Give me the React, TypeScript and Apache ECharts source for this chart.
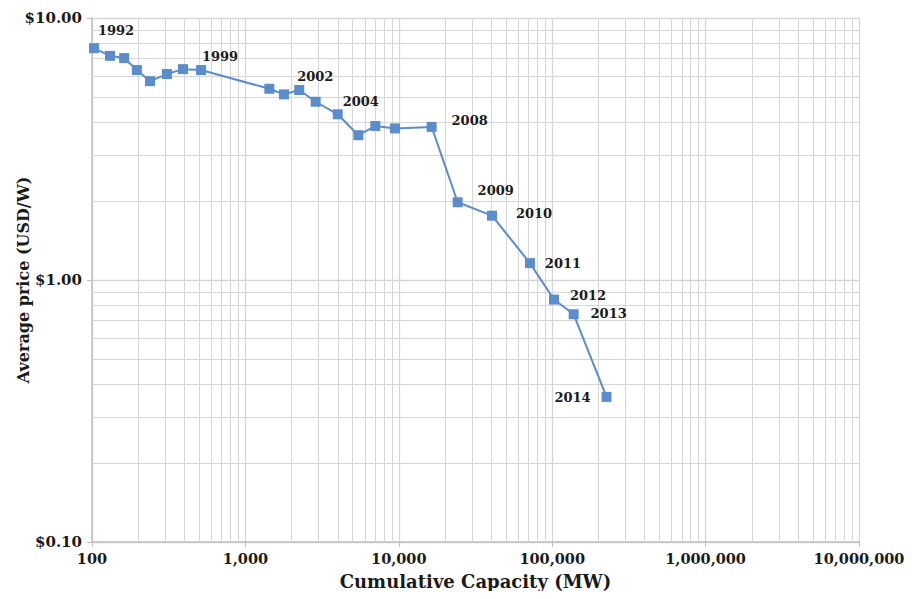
import React, { useEffect, useRef } from "react";
import * as echarts from "echarts";

const years = [
  "1992", "1993", "1994", "1995", "1996", "1997", "1998", "1999",
  "2000", "2001", "2002", "2003", "2004", "2005", "2006", "2007",
  "2008", "2009", "2010", "2011", "2012", "2013", "2014",
];
const capacityMW = [
  103, 131, 162, 196, 239, 308, 392, 514,
  1432, 1785, 2244, 2871, 3999, 5445, 7030, 9440,
  16370, 24200, 40500, 71600, 102700, 138000, 226000,
];
const priceUSD = [
  7.67, 7.17, 7.03, 6.33, 5.74, 6.11, 6.38, 6.33,
  5.37, 5.11, 5.31, 4.79, 4.29, 3.57, 3.87, 3.79,
  3.84, 1.98, 1.76, 1.16, 0.842, 0.74, 0.358,
];
const labelledYears = ["1992", "1999", "2002", "2004", "2008", "2009", "2010", "2011", "2012", "2013", "2014"];
const labelOffsets: Record<string, [number, number]> = {
  "1992": [22, -18],
  "1999": [19, -14],
  "2002": [16, -14],
  "2004": [23, -13],
  "2008": [38, -6],
  "2009": [38, -12],
  "2010": [42, -2],
  "2011": [33, 0],
  "2012": [34, -4],
  "2013": [35, -1],
  "2014": [-34, 1],
};
const xDecades = [100, 1000, 10000, 100000, 1000000];
const yDecades = [0.1, 1];
const minorSteps = [2, 3, 4, 5, 6, 7, 8, 9];

const FONT = "'DejaVu Serif', 'Liberation Serif', serif";
const TEXT = "#1a1a1a";
const GRID = "#d6d6d6";
const AXIS = "#bfbfbf";
const BLUE = "#5b8ccb";

export default function App() {
  const ref = useRef<HTMLDivElement>(null);
  useEffect(() => {
    if (!ref.current) return;
    const chart = echarts.init(ref.current, undefined, { renderer: "svg" });

    const minorX: any[] = [];
    xDecades.forEach((d) => minorSteps.forEach((m) => minorX.push({ xAxis: d * m })));
    const minorY: any[] = [];
    yDecades.forEach((d) => minorSteps.forEach((m) => minorY.push({ yAxis: +(d * m).toFixed(4) })));

    const data = years.map((yr, i) => {
      const item: any = { value: [capacityMW[i], priceUSD[i]] };
      if (labelledYears.includes(yr)) {
        item.label = {
          show: true,
          formatter: yr,
          position: "inside",
          offset: labelOffsets[yr],
          align: "center",
          verticalAlign: "middle",
          fontFamily: FONT,
          fontWeight: "bold",
          fontSize: 13,
          color: TEXT,
        };
      }
      return item;
    });

    chart.setOption({
      animation: false,
      backgroundColor: "#ffffff",
      grid: { left: 84, right: 48, top: 10, bottom: 49, containLabel: false, outerBoundsMode: "none" },
      xAxis: {
        type: "log",
        logBase: 10,
        min: 100,
        max: 10000000,
        name: "Cumulative Capacity (MW)",
        nameLocation: "middle",
        nameGap: 30,
        nameMoveOverlap: false,
        nameTextStyle: { fontFamily: FONT, fontWeight: "bold", fontSize: 18, color: TEXT },
        axisLine: { show: true, lineStyle: { color: AXIS, width: 1.5 } },
        axisTick: { show: true, length: 5, lineStyle: { color: AXIS } },
        axisLabel: {
          fontFamily: FONT,
          fontWeight: "bold",
          fontSize: 14.5,
          color: TEXT,
          margin: 9,
          formatter: (v: number) => Math.round(v).toLocaleString("en-US"),
        },
        splitLine: { show: true, lineStyle: { color: GRID, width: 1.3 } },
      },
      yAxis: {
        type: "log",
        logBase: 10,
        min: 0.1,
        max: 10,
        name: "Average price (USD/W)",
        nameLocation: "middle",
        nameGap: 61,
        nameMoveOverlap: false,
        nameTextStyle: { fontFamily: FONT, fontWeight: "bold", fontSize: 16, color: TEXT },
        axisLine: { show: true, lineStyle: { color: AXIS, width: 1.5 } },
        axisTick: { show: true, length: 5, lineStyle: { color: AXIS } },
        axisLabel: {
          fontFamily: FONT,
          fontWeight: "bold",
          fontSize: 15,
          color: TEXT,
          margin: 10,
          formatter: (v: number) => "$" + v.toFixed(2),
        },
        splitLine: { show: true, lineStyle: { color: GRID, width: 1.3 } },
      },
      series: [
        {
          type: "line",
          data: [],
          silent: true,
          z: 1,
          markLine: {
            z: 1,
            silent: true,
            symbol: "none",
            animation: false,
            label: { show: false },
            lineStyle: { color: GRID, width: 1, type: "solid" },
            data: [...minorX, ...minorY],
          },
        },
        {
          type: "line",
          z: 3,
          data,
          symbol: "rect",
          symbolSize: 10,
          itemStyle: { color: BLUE },
          lineStyle: { color: BLUE, width: 2 },
        },
      ],
    });
    return () => chart.dispose();
  }, []);
  return <div ref={ref} style={{ width: 899, height: 583 }} />;
}
